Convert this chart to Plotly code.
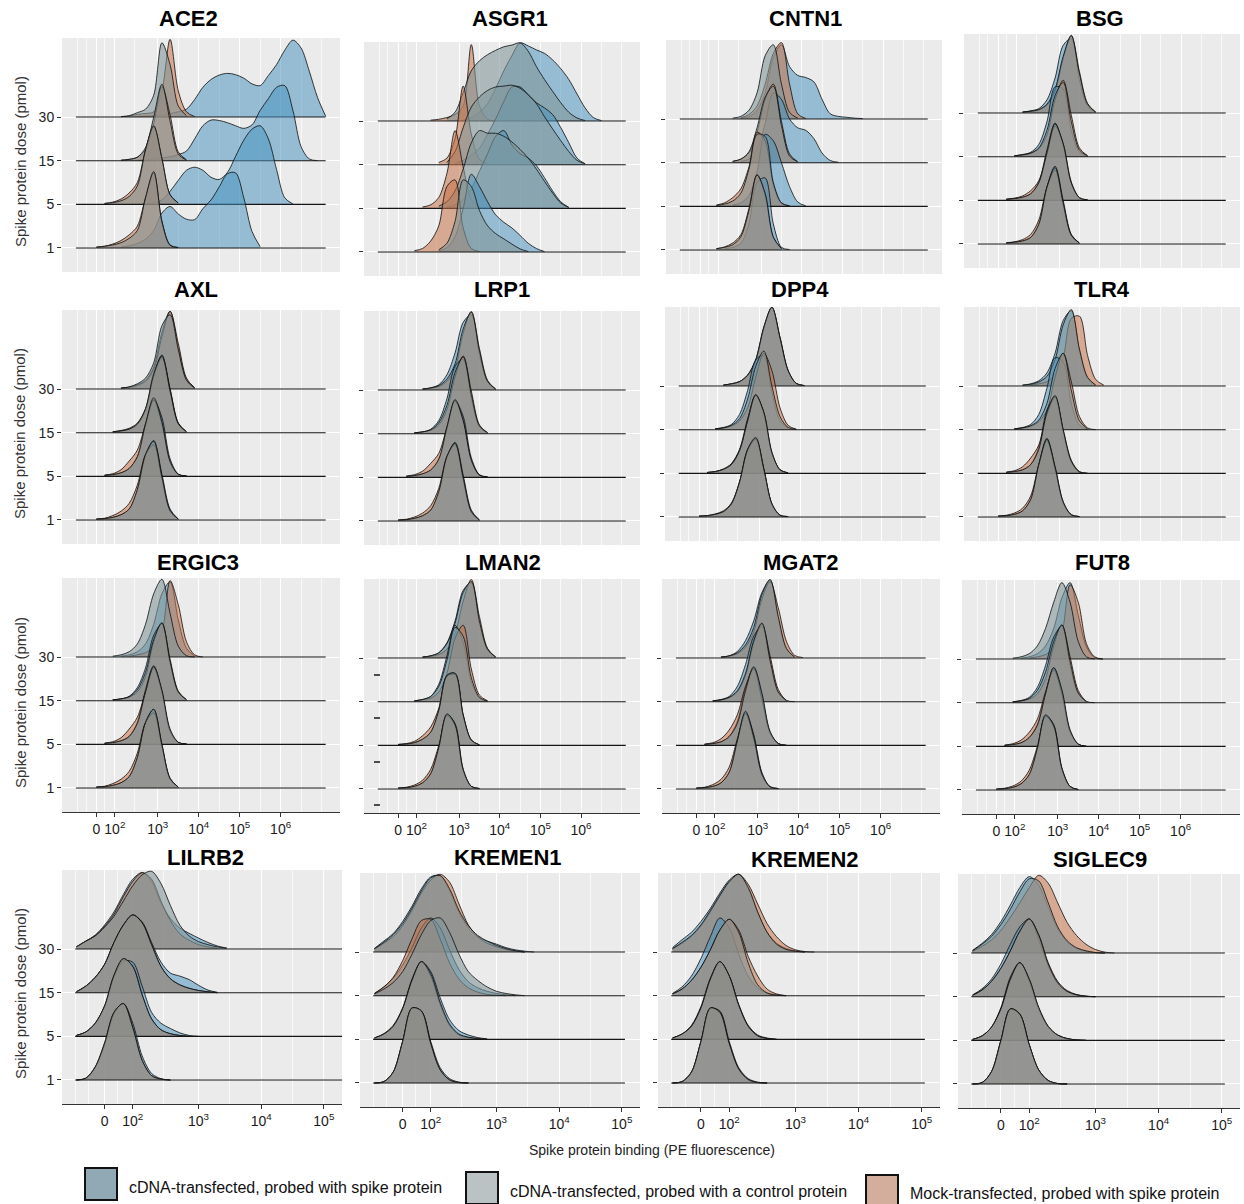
import plotly.graph_objects as go

FIG_W, FIG_H = 1244, 1204

# ---------------------------------------------------------------------------
# Categories, labels and axis breaks
# ---------------------------------------------------------------------------
DOSES = ["1", "5", "15", "30"]
SERIES = [
    "cDNA-transfected, probed with spike protein",
    "cDNA-transfected, probed with a control protein",
    "Mock-transfected, probed with spike protein",
]
# transformed (logicle-like) fluorescence positions of the labelled breaks
TICK_POS = [0, 0.45, 1.5, 2.5, 3.5, 4.5]
TICK_TEXT = ["0", "10<sup>2</sup>", "10<sup>3</sup>", "10<sup>4</sup>",
             "10<sup>5</sup>", "10<sup>6</sup>"]

# ---------------------------------------------------------------------------
# Ridge densities: one (start, heights) pair per dose (1, 5, 15, 30).
# Heights are sampled on a regular grid of the transformed axis starting at
# `start`; rows 1-3 use 0.2-decade steps, row 4 uses 0.15-decade steps.
# ---------------------------------------------------------------------------
ACE2_SPIKE = [
    (0.6, [0.02, 0.05, 0.1, 0.2, 0.4, 0.8, 0.95, 0.78, 0.66, 0.65, 0.9, 1.1, 1.4, 1.7, 1.72, 1.15, 0.38, 0.03]),
    (1.2, [0.02, 0.04, 0.1, 0.3, 0.55, 0.78, 0.85, 0.78, 0.62, 0.57, 0.73, 1.1, 1.47, 1.72, 1.8, 1.5, 0.8, 0.15, 0.01]),
    (1.0, [0.01, 0.02, 0.04, 0.06, 0.09, 0.14, 0.22, 0.5, 0.8, 0.93, 0.92, 0.87, 0.8, 0.74, 0.82, 1.15, 1.42, 1.68, 1.72, 1.15, 0.32, 0.04, 0.0]),
    (1.0, [0.01, 0.02, 0.03, 0.05, 0.08, 0.12, 0.18, 0.4, 0.68, 0.86, 0.96, 1.0, 0.97, 0.89, 0.76, 0.72, 0.95, 1.2, 1.53, 1.76, 1.58, 1.05, 0.45, 0.02]),
]
ACE2_CTRL = [
    (0.0, [0.02, 0.04, 0.07, 0.12, 0.22, 0.4, 1.15, 1.75, 0.6, 0.06, 0.01]),
    (0.2, [0.02, 0.04, 0.08, 0.18, 0.42, 1.25, 1.8, 1.05, 0.22, 0.03]),
    (0.6, [0.01, 0.03, 0.08, 0.3, 1.0, 1.75, 0.9, 0.15, 0.01]),
    (0.6, [0.01, 0.03, 0.1, 0.18, 0.5, 1.7, 1.2, 0.25, 0.03]),
]
ACE2_MOCK = [
    (0.0, [0.02, 0.04, 0.09, 0.17, 0.3, 0.5, 1.15, 1.72, 0.62, 0.07, 0.01]),
    (0.2, [0.02, 0.05, 0.12, 0.26, 0.5, 1.25, 1.78, 1.05, 0.22, 0.03]),
    (0.6, [0.01, 0.03, 0.08, 0.25, 0.85, 1.7, 1.05, 0.2, 0.02]),
    (0.6, [0.01, 0.02, 0.06, 0.08, 0.12, 0.6, 1.78, 0.6, 0.12, 0.01]),
]

ASGR1_SPIKE = [
    (1.0, [0.03, 0.1, 0.35, 1.0, 1.78, 1.5, 1.15, 0.85, 0.68, 0.55, 0.38, 0.2, 0.08, 0.01]),
    (1.2, [0.03, 0.08, 0.2, 0.45, 0.85, 1.25, 1.65, 1.78, 1.45, 1.25, 1.15, 0.98, 0.7, 0.4, 0.15, 0.02]),
    (1.4, [0.03, 0.1, 0.22, 0.38, 0.7, 1.05, 1.45, 1.78, 1.78, 1.6, 1.42, 1.3, 1.15, 0.85, 0.5, 0.15, 0.02]),
    (1.6, [0.02, 0.08, 0.2, 0.4, 0.75, 1.15, 1.5, 1.79, 1.72, 1.63, 1.55, 1.4, 1.2, 0.95, 0.62, 0.3, 0.08, 0.01]),
]
ASGR1_CTRL = [
    (1.0, [0.05, 0.2, 0.7, 1.65, 1.5, 0.95, 0.6, 0.42, 0.3, 0.18, 0.07, 0.01]),
    (1.0, [0.05, 0.15, 0.4, 0.9, 1.5, 1.78, 1.72, 1.72, 1.65, 1.52, 1.35, 1.15, 0.9, 0.62, 0.35, 0.12, 0.02]),
    (1.2, [0.05, 0.3, 0.85, 1.32, 1.55, 1.7, 1.78, 1.8, 1.82, 1.75, 1.6, 1.4, 1.1, 0.82, 0.55, 0.3, 0.1, 0.02]),
    (1.2, [0.05, 0.2, 0.65, 1.15, 1.38, 1.52, 1.62, 1.7, 1.74, 1.79, 1.6, 1.25, 0.95, 0.68, 0.42, 0.2, 0.07, 0.01]),
]
ASGR1_MOCK = [
    (0.4, [0.03, 0.08, 0.25, 0.6, 1.5, 1.65, 0.55, 0.08, 0.01]),
    (0.6, [0.03, 0.08, 0.25, 0.8, 1.78, 0.95, 0.2, 0.03]),
    (1.0, [0.05, 0.15, 0.6, 1.8, 0.7, 0.12, 0.02]),
    (0.8, [0.02, 0.04, 0.08, 0.15, 0.35, 1.75, 0.35, 0.04, 0.0]),
]

CNTN1_SPIKE = [
    (0.6, [0.03, 0.06, 0.15, 0.6, 1.55, 1.65, 0.6, 0.06, 0.01]),
    (0.8, [0.03, 0.08, 0.25, 0.8, 1.65, 1.5, 1.0, 0.45, 0.1, 0.01]),
    (1.0, [0.03, 0.08, 0.3, 0.9, 1.6, 1.45, 1.0, 0.8, 0.74, 0.55, 0.22, 0.05, 0.01]),
    (1.0, [0.02, 0.05, 0.2, 0.6, 1.4, 1.7, 1.2, 1.0, 0.95, 0.85, 0.45, 0.12, 0.06, 0.04, 0.02, 0.01]),
]
CNTN1_CTRL = [
    (0.4, [0.03, 0.06, 0.12, 0.3, 0.9, 1.72, 1.3, 0.3, 0.03]),
    (0.4, [0.02, 0.05, 0.12, 0.3, 0.85, 1.65, 1.6, 0.55, 0.08, 0.01]),
    (0.8, [0.03, 0.08, 0.25, 0.8, 1.5, 1.75, 0.85, 0.15, 0.02]),
    (0.8, [0.02, 0.06, 0.2, 0.6, 1.45, 1.7, 0.8, 0.15, 0.02]),
]
CNTN1_MOCK = [
    (0.4, [0.03, 0.07, 0.16, 0.35, 0.95, 1.72, 1.25, 0.28, 0.03]),
    (0.4, [0.03, 0.08, 0.2, 0.4, 0.9, 1.7, 1.5, 0.5, 0.07, 0.01]),
    (0.8, [0.03, 0.08, 0.22, 0.7, 1.45, 1.8, 0.95, 0.2, 0.02]),
    (1.0, [0.03, 0.1, 0.3, 0.8, 1.5, 1.75, 0.8, 0.12, 0.01]),
]

BSG_SPIKE = [
    (0.2, [0.02, 0.04, 0.07, 0.15, 0.45, 1.3, 1.78, 1.0, 0.22, 0.02]),
    (0.2, [0.02, 0.04, 0.07, 0.15, 0.42, 1.15, 1.77, 1.25, 0.38, 0.05, 0.01]),
    (0.4, [0.02, 0.05, 0.1, 0.28, 0.8, 1.6, 1.55, 0.6, 0.1, 0.01]),
    (0.6, [0.02, 0.05, 0.1, 0.3, 0.8, 1.55, 1.7, 0.75, 0.15, 0.02]),
]
BSG_CTRL = [
    (0.2, [0.02, 0.04, 0.07, 0.15, 0.45, 1.3, 1.75, 0.95, 0.2, 0.02]),
    (0.2, [0.02, 0.04, 0.07, 0.15, 0.4, 1.1, 1.75, 1.3, 0.4, 0.06, 0.01]),
    (0.4, [0.02, 0.04, 0.08, 0.2, 0.6, 1.4, 1.7, 0.8, 0.15, 0.02]),
    (0.6, [0.02, 0.04, 0.08, 0.2, 0.55, 1.3, 1.77, 0.9, 0.2, 0.02]),
]
BSG_MOCK = [
    (0.2, [0.03, 0.05, 0.1, 0.22, 0.55, 1.3, 1.7, 0.9, 0.2, 0.02]),
    (0.2, [0.03, 0.05, 0.1, 0.22, 0.45, 1.05, 1.7, 1.3, 0.42, 0.06, 0.01]),
    (0.4, [0.02, 0.04, 0.08, 0.18, 0.5, 1.3, 1.75, 0.95, 0.2, 0.02]),
    (0.6, [0.02, 0.04, 0.07, 0.18, 0.5, 1.25, 1.78, 0.95, 0.22, 0.02]),
]

AXL_SPIKE = [
    (0.0, [0.02, 0.03, 0.06, 0.12, 0.25, 0.68, 1.48, 1.82, 1.05, 0.25, 0.02]),
    (0.2, [0.02, 0.04, 0.08, 0.18, 0.45, 1.15, 1.75, 1.35, 0.4, 0.05, 0.01]),
    (0.4, [0.02, 0.04, 0.08, 0.18, 0.5, 1.3, 1.78, 1.0, 0.22, 0.02]),
    (0.6, [0.02, 0.04, 0.1, 0.2, 0.5, 1.3, 1.78, 0.95, 0.22, 0.02]),
]
AXL_CTRL = [
    (0.0, [0.02, 0.03, 0.06, 0.12, 0.25, 0.7, 1.5, 1.8, 1.0, 0.22, 0.02]),
    (0.2, [0.02, 0.04, 0.08, 0.18, 0.45, 1.2, 1.8, 1.25, 0.35, 0.05, 0.01]),
    (0.4, [0.02, 0.04, 0.08, 0.2, 0.55, 1.35, 1.75, 0.95, 0.2, 0.02]),
    (0.6, [0.02, 0.05, 0.12, 0.25, 0.6, 1.45, 1.7, 0.9, 0.2, 0.02]),
]
AXL_MOCK = [
    (0.0, [0.02, 0.04, 0.1, 0.2, 0.38, 0.8, 1.5, 1.72, 0.95, 0.2, 0.02]),
    (0.2, [0.03, 0.06, 0.15, 0.35, 0.6, 1.2, 1.75, 1.2, 0.32, 0.04, 0.01]),
    (0.4, [0.02, 0.05, 0.1, 0.22, 0.55, 1.3, 1.72, 1.0, 0.22, 0.02]),
    (0.6, [0.02, 0.04, 0.08, 0.18, 0.45, 1.2, 1.78, 1.05, 0.25, 0.03]),
]

LRP1_SPIKE = [
    (0.0, [0.02, 0.03, 0.06, 0.12, 0.25, 0.65, 1.45, 1.8, 1.05, 0.25, 0.02]),
    (0.2, [0.02, 0.04, 0.08, 0.16, 0.4, 1.1, 1.75, 1.4, 0.45, 0.06, 0.01]),
    (0.4, [0.02, 0.04, 0.1, 0.3, 0.8, 1.55, 1.7, 0.8, 0.15, 0.02]),
    (0.6, [0.02, 0.05, 0.12, 0.35, 0.85, 1.55, 1.72, 0.8, 0.18, 0.02]),
]
LRP1_CTRL = [
    (0.0, [0.02, 0.03, 0.06, 0.12, 0.25, 0.68, 1.48, 1.78, 1.0, 0.22, 0.02]),
    (0.2, [0.02, 0.04, 0.08, 0.17, 0.42, 1.15, 1.78, 1.3, 0.4, 0.05, 0.01]),
    (0.4, [0.02, 0.04, 0.09, 0.25, 0.65, 1.4, 1.75, 0.9, 0.18, 0.02]),
    (0.6, [0.02, 0.05, 0.1, 0.25, 0.6, 1.4, 1.78, 0.9, 0.2, 0.02]),
]
LRP1_MOCK = [
    (0.0, [0.02, 0.04, 0.09, 0.18, 0.35, 0.75, 1.48, 1.75, 0.95, 0.2, 0.02]),
    (0.2, [0.03, 0.06, 0.14, 0.32, 0.55, 1.15, 1.75, 1.3, 0.38, 0.05, 0.01]),
    (0.4, [0.02, 0.04, 0.08, 0.2, 0.55, 1.3, 1.78, 0.98, 0.2, 0.02]),
    (0.6, [0.02, 0.04, 0.08, 0.2, 0.5, 1.3, 1.8, 0.95, 0.22, 0.02]),
]

DPP4_SPIKE = [
    (0.0, [0.02, 0.03, 0.06, 0.12, 0.3, 0.8, 1.55, 1.8, 1.1, 0.3, 0.04, 0.01]),
    (0.2, [0.02, 0.04, 0.09, 0.22, 0.55, 1.25, 1.8, 1.35, 0.45, 0.08, 0.01]),
    (0.4, [0.02, 0.05, 0.12, 0.35, 0.9, 1.6, 1.7, 0.85, 0.2, 0.03]),
    (0.6, [0.02, 0.05, 0.1, 0.25, 0.6, 1.35, 1.8, 1.1, 0.35, 0.06, 0.01]),
]
DPP4_CTRL = [
    (0.0, [0.02, 0.03, 0.06, 0.12, 0.3, 0.8, 1.55, 1.82, 1.1, 0.3, 0.04, 0.01]),
    (0.2, [0.02, 0.04, 0.09, 0.2, 0.52, 1.2, 1.8, 1.4, 0.48, 0.08, 0.01]),
    (0.4, [0.02, 0.04, 0.1, 0.25, 0.7, 1.45, 1.8, 1.0, 0.3, 0.05, 0.01]),
    (0.6, [0.02, 0.05, 0.1, 0.25, 0.6, 1.35, 1.81, 1.1, 0.35, 0.06, 0.01]),
]
DPP4_MOCK = [
    (0.0, [0.02, 0.03, 0.07, 0.14, 0.32, 0.8, 1.52, 1.78, 1.1, 0.3, 0.04, 0.01]),
    (0.2, [0.02, 0.04, 0.1, 0.22, 0.52, 1.2, 1.78, 1.4, 0.48, 0.08, 0.01]),
    (0.4, [0.02, 0.04, 0.08, 0.2, 0.5, 1.2, 1.75, 1.35, 0.5, 0.1, 0.01]),
    (0.6, [0.02, 0.05, 0.1, 0.24, 0.58, 1.32, 1.8, 1.12, 0.36, 0.06, 0.01]),
]

TLR4_SPIKE = [
    (0.0, [0.02, 0.03, 0.06, 0.14, 0.4, 1.2, 1.8, 1.15, 0.35, 0.05, 0.01]),
    (0.2, [0.02, 0.04, 0.08, 0.2, 0.6, 1.45, 1.75, 0.95, 0.25, 0.03, 0.0]),
    (0.4, [0.02, 0.05, 0.12, 0.35, 0.95, 1.65, 1.55, 0.6, 0.1, 0.01]),
    (0.6, [0.02, 0.05, 0.12, 0.3, 0.75, 1.5, 1.72, 0.8, 0.18, 0.02]),
]
TLR4_CTRL = [
    (0.0, [0.02, 0.03, 0.06, 0.14, 0.4, 1.2, 1.78, 1.15, 0.35, 0.05, 0.01]),
    (0.2, [0.02, 0.04, 0.08, 0.2, 0.55, 1.4, 1.78, 1.0, 0.28, 0.03, 0.0]),
    (0.4, [0.02, 0.04, 0.09, 0.22, 0.6, 1.4, 1.75, 0.9, 0.2, 0.02]),
    (0.6, [0.02, 0.04, 0.09, 0.22, 0.6, 1.4, 1.75, 0.85, 0.2, 0.02]),
]
TLR4_MOCK = [
    (0.0, [0.02, 0.04, 0.09, 0.2, 0.48, 1.2, 1.75, 1.1, 0.32, 0.05, 0.01]),
    (0.2, [0.03, 0.06, 0.15, 0.35, 0.65, 1.35, 1.75, 1.0, 0.3, 0.04, 0.0]),
    (0.4, [0.02, 0.04, 0.08, 0.18, 0.45, 1.2, 1.75, 1.1, 0.3, 0.04, 0.0]),
    (0.8, [0.02, 0.05, 0.1, 0.25, 0.65, 1.55, 1.6, 0.7, 0.15, 0.02]),
]

ERGIC3_SPIKE = [
    (0.0, [0.02, 0.03, 0.06, 0.12, 0.26, 0.7, 1.5, 1.8, 1.0, 0.22, 0.02]),
    (0.2, [0.02, 0.04, 0.08, 0.18, 0.5, 1.25, 1.8, 1.2, 0.32, 0.04, 0.01]),
    (0.4, [0.02, 0.04, 0.1, 0.3, 0.75, 1.5, 1.75, 0.85, 0.18, 0.02]),
    (0.6, [0.02, 0.05, 0.12, 0.3, 0.75, 1.45, 1.72, 0.85, 0.2, 0.02]),
]
ERGIC3_CTRL = [
    (0.0, [0.02, 0.03, 0.06, 0.12, 0.26, 0.7, 1.5, 1.8, 1.0, 0.22, 0.02]),
    (0.2, [0.02, 0.04, 0.08, 0.18, 0.48, 1.2, 1.78, 1.25, 0.35, 0.05, 0.01]),
    (0.4, [0.02, 0.04, 0.09, 0.25, 0.65, 1.4, 1.78, 0.9, 0.2, 0.02]),
    (0.4, [0.02, 0.05, 0.12, 0.3, 0.75, 1.45, 1.78, 1.0, 0.25, 0.03, 0.0]),
]
ERGIC3_MOCK = [
    (0.0, [0.02, 0.04, 0.1, 0.2, 0.38, 0.8, 1.5, 1.72, 0.95, 0.2, 0.02]),
    (0.2, [0.03, 0.06, 0.15, 0.35, 0.62, 1.2, 1.75, 1.2, 0.3, 0.04, 0.01]),
    (0.4, [0.02, 0.04, 0.08, 0.2, 0.55, 1.35, 1.78, 0.95, 0.22, 0.02]),
    (0.8, [0.02, 0.05, 0.1, 0.22, 0.55, 1.75, 1.2, 0.35, 0.05, 0.0]),
]

LMAN2_SPIKE = [
    (0.0, [0.02, 0.03, 0.06, 0.14, 0.35, 0.95, 1.7, 1.5, 0.45, 0.06, 0.01]),
    (0.0, [0.02, 0.03, 0.06, 0.14, 0.3, 0.8, 1.6, 1.65, 0.7, 0.12, 0.01]),
    (0.4, [0.02, 0.05, 0.12, 0.4, 1.05, 1.75, 1.35, 0.45, 0.08, 0.01]),
    (0.6, [0.02, 0.05, 0.12, 0.35, 0.85, 1.55, 1.72, 0.8, 0.18, 0.02]),
]
LMAN2_CTRL = [
    (0.0, [0.02, 0.03, 0.06, 0.14, 0.35, 0.95, 1.72, 1.48, 0.45, 0.06, 0.01]),
    (0.0, [0.02, 0.03, 0.06, 0.14, 0.3, 0.8, 1.6, 1.65, 0.7, 0.12, 0.01]),
    (0.4, [0.02, 0.05, 0.12, 0.35, 0.95, 1.7, 1.5, 0.55, 0.1, 0.01]),
    (0.6, [0.02, 0.05, 0.12, 0.33, 0.8, 1.5, 1.75, 0.85, 0.2, 0.02]),
]
LMAN2_MOCK = [
    (0.0, [0.02, 0.04, 0.09, 0.2, 0.45, 1.0, 1.68, 1.45, 0.42, 0.06, 0.01]),
    (0.0, [0.02, 0.04, 0.09, 0.22, 0.42, 0.85, 1.58, 1.62, 0.68, 0.12, 0.01]),
    (0.4, [0.02, 0.04, 0.08, 0.22, 0.65, 1.45, 1.75, 0.75, 0.15, 0.02]),
    (0.6, [0.02, 0.04, 0.08, 0.2, 0.55, 1.3, 1.8, 0.95, 0.22, 0.02]),
]

MGAT2_SPIKE = [
    (0.0, [0.02, 0.03, 0.06, 0.14, 0.38, 1.1, 1.75, 1.25, 0.38, 0.05, 0.01]),
    (0.2, [0.02, 0.04, 0.08, 0.2, 0.55, 1.3, 1.78, 1.15, 0.3, 0.04, 0.0]),
    (0.4, [0.02, 0.05, 0.12, 0.35, 0.85, 1.5, 1.72, 0.9, 0.2, 0.02]),
    (0.6, [0.02, 0.05, 0.15, 0.4, 0.85, 1.5, 1.78, 0.9, 0.2, 0.02]),
]
MGAT2_CTRL = [
    (0.0, [0.02, 0.03, 0.06, 0.14, 0.38, 1.1, 1.78, 1.2, 0.35, 0.05, 0.01]),
    (0.2, [0.02, 0.04, 0.08, 0.2, 0.5, 1.25, 1.8, 1.2, 0.32, 0.04, 0.0]),
    (0.4, [0.02, 0.04, 0.1, 0.25, 0.65, 1.4, 1.8, 0.95, 0.22, 0.02]),
    (0.6, [0.02, 0.05, 0.12, 0.3, 0.7, 1.45, 1.8, 0.95, 0.22, 0.02]),
]
MGAT2_MOCK = [
    (0.0, [0.02, 0.04, 0.1, 0.22, 0.5, 1.15, 1.72, 1.15, 0.32, 0.05, 0.01]),
    (0.2, [0.03, 0.06, 0.15, 0.35, 0.7, 1.35, 1.75, 1.05, 0.28, 0.04, 0.0]),
    (0.4, [0.02, 0.04, 0.09, 0.22, 0.6, 1.35, 1.78, 1.05, 0.28, 0.03, 0.0]),
    (0.6, [0.02, 0.04, 0.1, 0.25, 0.6, 1.35, 1.75, 1.15, 0.38, 0.06, 0.01]),
]

FUT8_SPIKE = [
    (0.0, [0.02, 0.03, 0.06, 0.14, 0.35, 0.95, 1.7, 1.5, 0.5, 0.08, 0.01]),
    (0.2, [0.02, 0.04, 0.08, 0.2, 0.5, 1.2, 1.8, 1.25, 0.35, 0.05, 0.0]),
    (0.4, [0.02, 0.05, 0.12, 0.35, 0.85, 1.5, 1.75, 0.85, 0.2, 0.02]),
    (0.6, [0.02, 0.05, 0.12, 0.3, 0.7, 1.4, 1.75, 1.0, 0.28, 0.03, 0.0]),
]
FUT8_CTRL = [
    (0.0, [0.02, 0.03, 0.06, 0.14, 0.35, 0.95, 1.72, 1.48, 0.5, 0.08, 0.01]),
    (0.2, [0.02, 0.04, 0.08, 0.2, 0.48, 1.2, 1.8, 1.3, 0.38, 0.05, 0.0]),
    (0.4, [0.02, 0.04, 0.1, 0.28, 0.7, 1.4, 1.78, 0.95, 0.22, 0.02]),
    (0.4, [0.02, 0.05, 0.12, 0.3, 0.7, 1.3, 1.75, 1.3, 0.4, 0.05, 0.0]),
]
FUT8_MOCK = [
    (0.0, [0.02, 0.04, 0.09, 0.2, 0.45, 1.0, 1.68, 1.45, 0.48, 0.08, 0.01]),
    (0.2, [0.03, 0.06, 0.14, 0.32, 0.62, 1.25, 1.75, 1.2, 0.33, 0.05, 0.0]),
    (0.4, [0.02, 0.04, 0.08, 0.2, 0.55, 1.3, 1.78, 1.05, 0.28, 0.03, 0.0]),
    (0.8, [0.02, 0.05, 0.1, 0.25, 0.6, 1.7, 1.3, 0.35, 0.05, 0.0]),
]

LILRB2_SPIKE = [
    (-0.45, [0.0, 0.04, 0.28, 0.8, 1.5, 1.75, 1.3, 0.55, 0.15, 0.03, 0.0]),
    (-0.45, [0.02, 0.1, 0.3, 0.68, 1.35, 1.72, 1.7, 1.15, 0.55, 0.3, 0.18, 0.08, 0.02, 0.0]),
    (-0.45, [0.02, 0.15, 0.35, 0.65, 1.15, 1.55, 1.78, 1.62, 1.15, 0.7, 0.45, 0.38, 0.3, 0.17, 0.06, 0.01]),
    (-0.45, [0.05, 0.18, 0.32, 0.55, 0.85, 1.25, 1.6, 1.75, 1.55, 1.05, 0.7, 0.48, 0.36, 0.25, 0.15, 0.07, 0.02]),
]
LILRB2_CTRL = [
    (-0.45, [0.0, 0.04, 0.3, 0.85, 1.55, 1.75, 1.2, 0.45, 0.1, 0.02, 0.0]),
    (-0.45, [0.02, 0.1, 0.3, 0.7, 1.4, 1.78, 1.6, 0.95, 0.4, 0.15, 0.06, 0.02, 0.0]),
    (-0.45, [0.02, 0.15, 0.35, 0.65, 1.15, 1.55, 1.78, 1.6, 1.1, 0.6, 0.32, 0.18, 0.1, 0.05, 0.02, 0.0]),
    (-0.45, [0.05, 0.18, 0.3, 0.5, 0.75, 1.1, 1.45, 1.7, 1.78, 1.5, 1.0, 0.55, 0.3, 0.17, 0.1, 0.05, 0.02]),
]
LILRB2_MOCK = [
    (-0.45, [0.0, 0.04, 0.3, 0.85, 1.55, 1.75, 1.2, 0.45, 0.1, 0.02, 0.0]),
    (-0.45, [0.02, 0.1, 0.3, 0.7, 1.4, 1.78, 1.6, 0.95, 0.4, 0.15, 0.06, 0.02, 0.0]),
    (-0.45, [0.02, 0.15, 0.35, 0.65, 1.15, 1.55, 1.78, 1.6, 1.1, 0.6, 0.32, 0.18, 0.1, 0.05, 0.02, 0.0]),
    (-0.45, [0.05, 0.18, 0.3, 0.52, 0.8, 1.2, 1.55, 1.75, 1.6, 1.1, 0.65, 0.35, 0.2, 0.1, 0.05, 0.02]),
]

KREMEN1_SPIKE = [
    (-0.45, [0.0, 0.03, 0.25, 0.95, 1.7, 1.65, 0.95, 0.35, 0.1, 0.02, 0.0]),
    (-0.45, [0.03, 0.12, 0.3, 0.7, 1.35, 1.78, 1.55, 0.95, 0.45, 0.2, 0.1, 0.04, 0.01]),
    (-0.45, [0.05, 0.2, 0.4, 0.7, 1.1, 1.55, 1.78, 1.55, 1.05, 0.6, 0.32, 0.18, 0.1, 0.05, 0.02, 0.0]),
    (-0.45, [0.08, 0.25, 0.42, 0.7, 1.05, 1.45, 1.72, 1.75, 1.4, 0.9, 0.55, 0.35, 0.25, 0.18, 0.1, 0.05, 0.02, 0.0]),
]
KREMEN1_CTRL = [
    (-0.45, [0.0, 0.03, 0.25, 0.95, 1.72, 1.65, 0.9, 0.3, 0.07, 0.01, 0.0]),
    (-0.45, [0.03, 0.12, 0.3, 0.7, 1.35, 1.78, 1.5, 0.85, 0.35, 0.12, 0.05, 0.02, 0.0]),
    (-0.45, [0.04, 0.15, 0.3, 0.55, 0.95, 1.4, 1.72, 1.78, 1.45, 0.95, 0.55, 0.35, 0.2, 0.1, 0.05, 0.02, 0.0]),
    (-0.45, [0.08, 0.22, 0.4, 0.65, 1.0, 1.4, 1.7, 1.75, 1.45, 0.95, 0.6, 0.38, 0.25, 0.15, 0.08, 0.03, 0.0]),
]
KREMEN1_MOCK = [
    (-0.45, [0.0, 0.03, 0.25, 0.95, 1.72, 1.65, 0.9, 0.3, 0.07, 0.01, 0.0]),
    (-0.45, [0.03, 0.13, 0.32, 0.72, 1.38, 1.78, 1.45, 0.8, 0.32, 0.1, 0.04, 0.01, 0.0]),
    (-0.45, [0.05, 0.2, 0.42, 0.8, 1.3, 1.72, 1.75, 1.3, 0.75, 0.38, 0.18, 0.08, 0.03, 0.01, 0.0]),
    (-0.45, [0.06, 0.2, 0.35, 0.6, 0.95, 1.35, 1.65, 1.78, 1.6, 1.1, 0.62, 0.35, 0.2, 0.12, 0.06, 0.02, 0.0]),
]

KREMEN2_SPIKE = [
    (-0.45, [0.0, 0.03, 0.25, 0.95, 1.7, 1.65, 0.95, 0.35, 0.1, 0.02, 0.0]),
    (-0.45, [0.03, 0.12, 0.32, 0.75, 1.4, 1.78, 1.45, 0.8, 0.32, 0.1, 0.03, 0.0]),
    (-0.45, [0.05, 0.2, 0.45, 0.85, 1.35, 1.78, 1.55, 0.95, 0.45, 0.18, 0.06, 0.02, 0.0]),
    (-0.45, [0.1, 0.28, 0.45, 0.7, 1.0, 1.35, 1.65, 1.78, 1.45, 0.9, 0.45, 0.2, 0.08, 0.02, 0.0]),
]
KREMEN2_CTRL = [
    (-0.45, [0.0, 0.03, 0.25, 0.95, 1.72, 1.62, 0.9, 0.32, 0.08, 0.01, 0.0]),
    (-0.45, [0.03, 0.12, 0.3, 0.72, 1.38, 1.78, 1.45, 0.78, 0.3, 0.08, 0.02, 0.0]),
    (-0.45, [0.04, 0.15, 0.35, 0.65, 1.05, 1.5, 1.75, 1.45, 0.75, 0.25, 0.06, 0.01, 0.0]),
    (-0.45, [0.08, 0.22, 0.38, 0.62, 0.95, 1.3, 1.62, 1.78, 1.48, 0.92, 0.45, 0.18, 0.06, 0.02, 0.0]),
]
KREMEN2_MOCK = [
    (-0.45, [0.0, 0.03, 0.25, 0.95, 1.72, 1.62, 0.9, 0.32, 0.08, 0.01, 0.0]),
    (-0.45, [0.03, 0.12, 0.3, 0.72, 1.38, 1.78, 1.45, 0.78, 0.3, 0.08, 0.02, 0.0]),
    (-0.45, [0.04, 0.15, 0.35, 0.65, 1.05, 1.5, 1.75, 1.5, 0.9, 0.45, 0.15, 0.04, 0.0]),
    (-0.45, [0.07, 0.2, 0.36, 0.6, 0.92, 1.28, 1.6, 1.78, 1.55, 1.1, 0.65, 0.35, 0.15, 0.05, 0.01, 0.0]),
]

SIGLEC9_SPIKE = [
    (-0.45, [0.0, 0.03, 0.28, 1.0, 1.72, 1.6, 0.9, 0.32, 0.08, 0.01, 0.0]),
    (-0.45, [0.02, 0.1, 0.3, 0.75, 1.45, 1.78, 1.35, 0.7, 0.3, 0.12, 0.04, 0.01, 0.0]),
    (-0.45, [0.04, 0.18, 0.4, 0.75, 1.2, 1.6, 1.78, 1.3, 0.7, 0.3, 0.12, 0.04, 0.01, 0.0]),
    (-0.45, [0.06, 0.22, 0.42, 0.72, 1.1, 1.5, 1.75, 1.55, 1.05, 0.55, 0.25, 0.1, 0.04, 0.01, 0.0]),
]
SIGLEC9_CTRL = [
    (-0.45, [0.0, 0.03, 0.28, 1.0, 1.72, 1.6, 0.9, 0.32, 0.08, 0.01, 0.0]),
    (-0.45, [0.02, 0.1, 0.3, 0.72, 1.4, 1.78, 1.4, 0.75, 0.32, 0.12, 0.04, 0.01, 0.0]),
    (-0.45, [0.03, 0.15, 0.35, 0.65, 1.05, 1.5, 1.78, 1.4, 0.75, 0.32, 0.12, 0.04, 0.01, 0.0]),
    (-0.45, [0.05, 0.2, 0.38, 0.65, 1.0, 1.4, 1.7, 1.65, 1.15, 0.6, 0.28, 0.12, 0.05, 0.01, 0.0]),
]
SIGLEC9_MOCK = [
    (-0.45, [0.0, 0.03, 0.28, 1.0, 1.72, 1.6, 0.9, 0.32, 0.08, 0.01, 0.0]),
    (-0.45, [0.02, 0.1, 0.3, 0.72, 1.4, 1.78, 1.4, 0.75, 0.32, 0.12, 0.04, 0.01, 0.0]),
    (-0.45, [0.03, 0.15, 0.35, 0.65, 1.05, 1.5, 1.78, 1.42, 0.78, 0.35, 0.14, 0.05, 0.01, 0.0]),
    (-0.45, [0.04, 0.15, 0.3, 0.52, 0.82, 1.15, 1.5, 1.78, 1.6, 1.15, 0.7, 0.4, 0.2, 0.08, 0.02, 0.0]),
]

PANELS = [
    ("ACE2", ACE2_SPIKE, ACE2_CTRL, ACE2_MOCK),
    ("ASGR1", ASGR1_SPIKE, ASGR1_CTRL, ASGR1_MOCK),
    ("CNTN1", CNTN1_SPIKE, CNTN1_CTRL, CNTN1_MOCK),
    ("BSG", BSG_SPIKE, BSG_CTRL, BSG_MOCK),
    ("AXL", AXL_SPIKE, AXL_CTRL, AXL_MOCK),
    ("LRP1", LRP1_SPIKE, LRP1_CTRL, LRP1_MOCK),
    ("DPP4", DPP4_SPIKE, DPP4_CTRL, DPP4_MOCK),
    ("TLR4", TLR4_SPIKE, TLR4_CTRL, TLR4_MOCK),
    ("ERGIC3", ERGIC3_SPIKE, ERGIC3_CTRL, ERGIC3_MOCK),
    ("LMAN2", LMAN2_SPIKE, LMAN2_CTRL, LMAN2_MOCK),
    ("MGAT2", MGAT2_SPIKE, MGAT2_CTRL, MGAT2_MOCK),
    ("FUT8", FUT8_SPIKE, FUT8_CTRL, FUT8_MOCK),
    ("LILRB2", LILRB2_SPIKE, LILRB2_CTRL, LILRB2_MOCK),
    ("KREMEN1", KREMEN1_SPIKE, KREMEN1_CTRL, KREMEN1_MOCK),
    ("KREMEN2", KREMEN2_SPIKE, KREMEN2_CTRL, KREMEN2_MOCK),
    ("SIGLEC9", SIGLEC9_SPIKE, SIGLEC9_CTRL, SIGLEC9_MOCK),
]

# ---------------------------------------------------------------------------
# Layout geometry (pixels) and styling
# ---------------------------------------------------------------------------
PANEL_BOX = {  # left, top, right, bottom
    "ACE2": (62, 38, 340, 272), "ASGR1": (364, 42, 640, 276),
    "CNTN1": (666, 40, 942, 274), "BSG": (964, 34, 1240, 268),
    "AXL": (62, 310, 340, 544), "LRP1": (364, 311, 640, 545),
    "DPP4": (665, 307, 940, 541), "TLR4": (964, 307, 1240, 541),
    "ERGIC3": (62, 578, 340, 812), "LMAN2": (364, 579, 640, 813),
    "MGAT2": (662, 579, 940, 813), "FUT8": (962, 580, 1240, 814),
    "LILRB2": (62, 870, 342, 1104), "KREMEN1": (360, 873, 640, 1107),
    "KREMEN2": (658, 873, 940, 1107), "SIGLEC9": (958, 874, 1240, 1108),
}
TITLE_XY = {
    "ACE2": (188, 18), "ASGR1": (510, 18), "CNTN1": (805, 18), "BSG": (1100, 18),
    "AXL": (196, 290), "LRP1": (502, 290), "DPP4": (800, 290), "TLR4": (1102, 290),
    "ERGIC3": (198, 562), "LMAN2": (503, 562), "MGAT2": (800, 562), "FUT8": (1102, 562),
    "LILRB2": (205, 857), "KREMEN1": (508, 858), "KREMEN2": (805, 859), "SIGLEC9": (1100, 859),
}
YTITLE_Y = [162, 434, 703, 994]
# stray tick dashes printed inside the LMAN2 panel
LMAN2_DASH_Y = [675, 718, 762, 805]

FILL_SPIKE = "rgba(70,145,190,0.52)"
FILL_CTRL = "rgba(130,150,154,0.6)"
FILL_MOCK = "rgba(198,114,72,0.55)"
OUTLINE = "rgba(15,15,15,0.9)"
BASELINE = "#151515"
PANEL_BG = "#EBEBEB"
FONT = "Liberation Sans, Arial, sans-serif"

fig = go.Figure()
layout = dict(
    width=FIG_W, height=FIG_H, margin=dict(l=0, r=0, t=0, b=0),
    paper_bgcolor="white", plot_bgcolor=PANEL_BG, showlegend=False,
    font=dict(family=FONT, color="#333333", size=14),
)

annotations = []
shapes = []
for idx, (name, spike, ctrl, mock) in enumerate(PANELS):
    n = idx + 1
    row, col = divmod(idx, 4)
    xa = "x" if n == 1 else f"x{n}"
    ya = "y" if n == 1 else f"y{n}"
    if row < 3:
        step, lo, hi, xr = 0.2, -0.5, 5.6, [-0.84, 5.95]
        minor = [-0.46, -0.25, 0.21, 0.94, 2.0, 3.0, 4.0, 5.0, 5.5]
    else:
        step, lo, xr = 0.15, -0.47, [-0.68, 3.79]
        hi = 3.79 if name == "LILRB2" else 3.55
        minor = [-0.46, -0.25, 0.21, 0.94, 2.0, 3.0]

    # upper ridges first so lower doses sit in front
    for d in (3, 2, 1, 0):
        base = d + 1
        for series, fill in ((spike, FILL_SPIKE), (mock, FILL_MOCK), (ctrl, FILL_CTRL)):
            start, heights = series[d]
            xs = [round(start + step * k, 4) for k in range(len(heights))]
            ys = [base + h for h in heights]
            # invisible floor under this density, then the density filled down to it
            fig.add_trace(go.Scatter(
                x=[xs[0], xs[-1]], y=[base, base], mode="lines", line=dict(width=0),
                xaxis=xa, yaxis=ya, hoverinfo="skip", showlegend=False))
            fig.add_trace(go.Scatter(
                x=xs, y=ys, mode="lines", fill="tonexty", fillcolor=fill,
                line=dict(color=OUTLINE, width=0.9, shape="spline", smoothing=0.9),
                xaxis=xa, yaxis=ya, hoverinfo="skip", showlegend=False))
        # the ridge's baseline runs the full width of the measured range
        fig.add_trace(go.Scatter(
            x=[lo, hi], y=[base, base], mode="lines",
            line=dict(color=BASELINE, width=1.1),
            xaxis=xa, yaxis=ya, hoverinfo="skip", showlegend=False))

    l, t, r, b = PANEL_BOX[name]
    has_x = row >= 2
    layout["xaxis" if n == 1 else f"xaxis{n}"] = dict(
        domain=[l / FIG_W, r / FIG_W], anchor=ya, range=xr, fixedrange=True,
        tickmode="array", tickvals=TICK_POS, ticktext=TICK_TEXT,
        showgrid=True, gridcolor="white", gridwidth=1.2, zeroline=False,
        minor=dict(tickmode="array", tickvals=minor, showgrid=True,
                   gridcolor="rgba(255,255,255,0.7)", gridwidth=0.6, ticks=""),
        showticklabels=has_x, ticks="outside" if has_x else "", ticklen=4,
        tickcolor="#333333", showline=has_x, linecolor="#333333", linewidth=1.3,
        tickfont=dict(size=14, color="#1a1a1a", family=FONT),
    )
    layout["yaxis" if n == 1 else f"yaxis{n}"] = dict(
        domain=[1 - b / FIG_H, 1 - t / FIG_H], anchor=xa, range=[0.45, 5.81],
        fixedrange=True, tickmode="array", tickvals=[1, 2, 3, 4], ticktext=DOSES,
        showticklabels=(col == 0), ticks="outside", ticklen=4, tickcolor="#333333",
        showgrid=True, gridcolor="white", gridwidth=1.2, zeroline=False,
        tickfont=dict(size=14, color="#222222", family=FONT),
    )

    tx, ty = TITLE_XY[name]
    annotations.append(dict(
        text=f"<b>{name}</b>", x=tx / FIG_W, y=1 - ty / FIG_H, xref="paper", yref="paper",
        showarrow=False, xanchor="center", yanchor="middle",
        font=dict(size=22, color="black", family=FONT)))

for yc in LMAN2_DASH_Y:
    shapes.append(dict(type="line", xref="paper", yref="paper",
                       x0=374 / FIG_W, x1=380 / FIG_W, y0=1 - yc / FIG_H, y1=1 - yc / FIG_H,
                       line=dict(color="#222222", width=1.6)))

for yc in YTITLE_Y:
    annotations.append(dict(
        text="Spike protein dose (pmol)", x=20 / FIG_W, y=1 - yc / FIG_H,
        xref="paper", yref="paper", showarrow=False, textangle=-90,
        xanchor="center", yanchor="middle", font=dict(size=15, color="#333333", family=FONT)))

annotations.append(dict(
    text="Spike protein binding (PE fluorescence)", x=652 / FIG_W, y=1 - 1150 / FIG_H,
    xref="paper", yref="paper", showarrow=False, xanchor="center", yanchor="middle",
    font=dict(size=14, color="#222222", family=FONT)))

# legend keys along the bottom edge
LEGEND_KEYS = [  # swatch left, top, right, bottom, text x, text y, colour
    (85, 1168, 117, 1200, 127, 1187, "#91A9B5"),
    (466, 1172, 498, 1204, 508, 1191, "#BBC2C4"),
    (866, 1175, 898, 1206, 908, 1193, "#D3AE9D"),
]
for (x0, y0, x1, y1, txx, txy, col), label in zip(LEGEND_KEYS, SERIES):
    shapes.append(dict(type="rect", xref="paper", yref="paper",
                       x0=x0 / FIG_W, x1=x1 / FIG_W, y0=1 - y1 / FIG_H, y1=1 - y0 / FIG_H,
                       fillcolor=col, line=dict(color="#111111", width=2)))
    annotations.append(dict(
        text=label, x=txx / FIG_W, y=1 - txy / FIG_H, xref="paper", yref="paper",
        showarrow=False, xanchor="left", yanchor="middle",
        font=dict(size=16, color="#111111", family=FONT)))

layout["annotations"] = annotations
layout["shapes"] = shapes
fig.update_layout(**layout)
fig.write_html("out.html")
